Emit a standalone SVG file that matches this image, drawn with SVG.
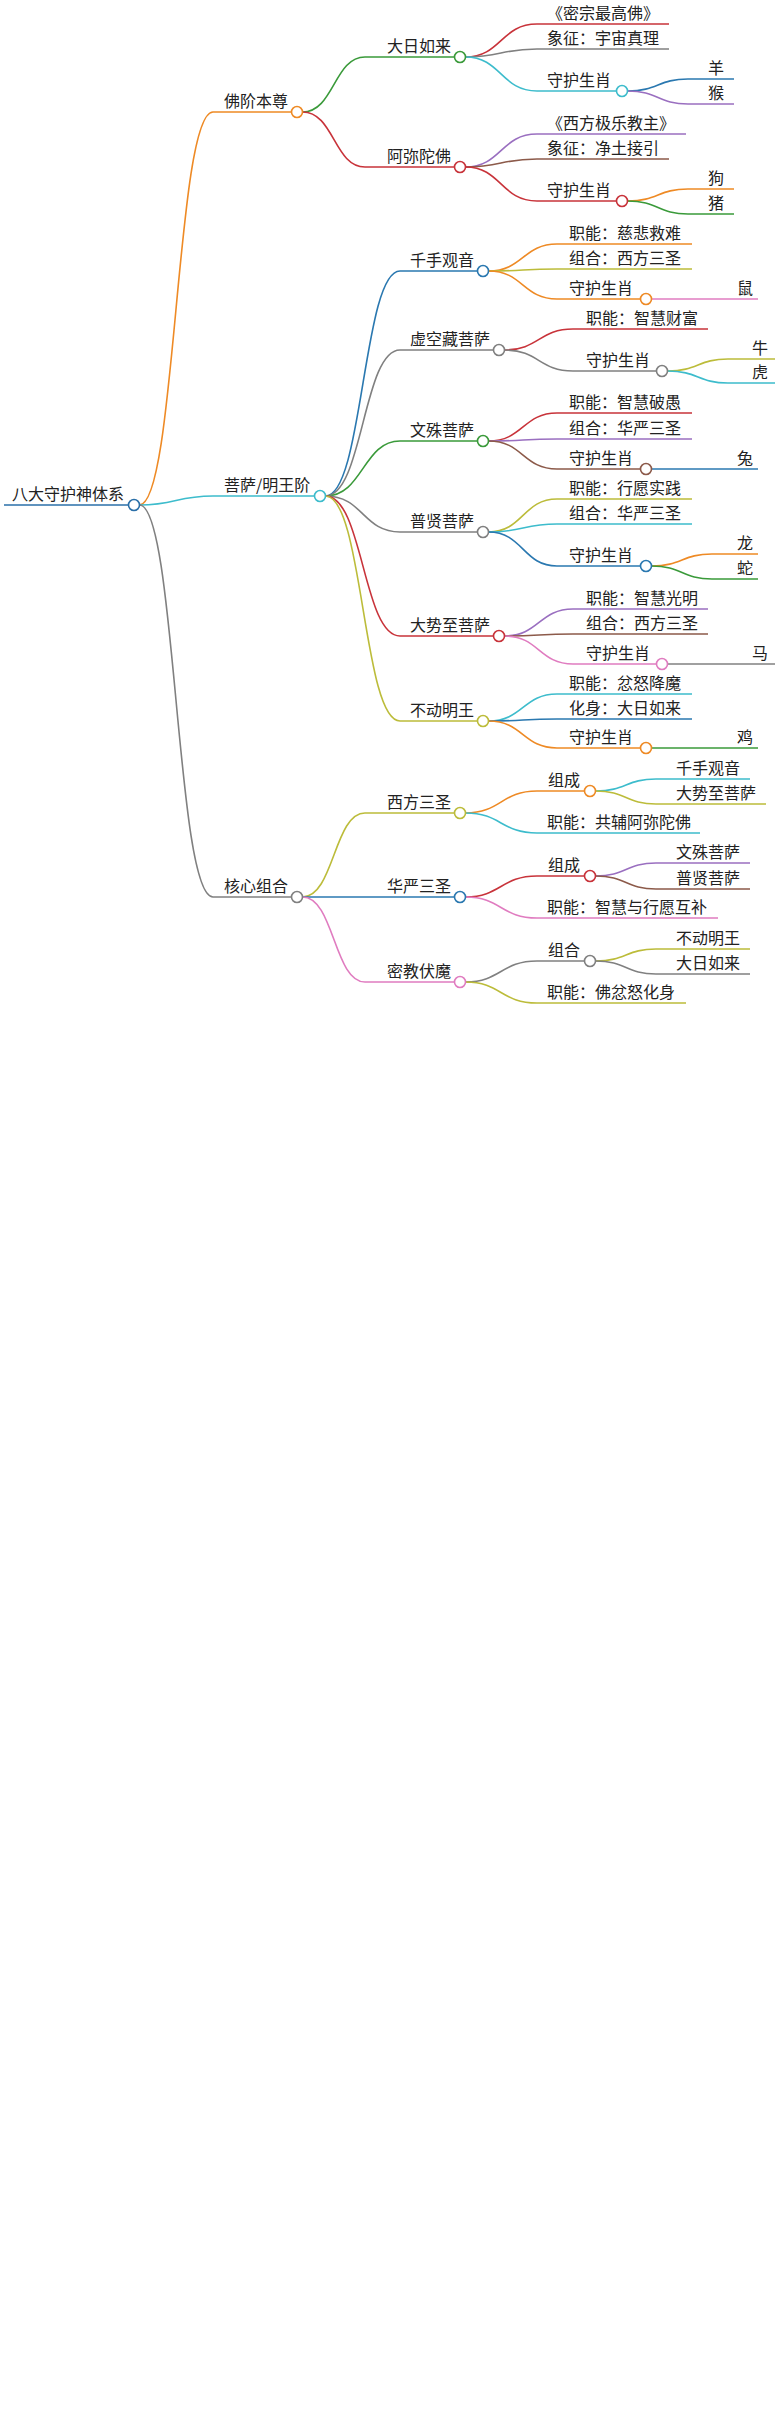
<svg xmlns="http://www.w3.org/2000/svg" width="775" height="2425" viewBox="0 0 775 2425">
<style>
text{font-family:"Noto Sans CJK SC","Liberation Sans",sans-serif;font-size:16px;fill:#222}
path{fill:none;stroke-width:1.6}
circle{fill:#fff;stroke-width:1.6}
.or{stroke:#ee8a25}.gr{stroke:#3a9a3a}.rd{stroke:#c8333a}.gy{stroke:#808080}.cy{stroke:#3dbccc}.bl{stroke:#2a78b0}.pu{stroke:#9a6fc0}.br{stroke:#8c5a4a}.ol{stroke:#bcbc3a}.pk{stroke:#e07cc0}
</style>
<rect width="775" height="2425" fill="#fff"/>
<g id="connectors">
<path d="M4 505H128.5" stroke="#2a6fa8" stroke-width="3"/>
<path class="or" d="M139.5 505C176 505 176 112 213 112H291.5"/>
<path class="cy" d="M139.5 505C176 505 176 496 213 496H314.5"/>
<path class="gy" d="M139.5 505C176 505 176 897 213 897H291.5"/>
<path class="gr" d="M302.5 112C334 112 334 57 365 57H454.5"/>
<path class="rd" d="M302.5 112C334 112 334 167 365 167H454.5"/>
<path class="rd" d="M465.5 57C501 57 501 24 537 24H669"/>
<path class="gy" d="M465.5 57C501 57 501 49 537 49H669"/>
<path class="cy" d="M465.5 57C501 57 501 91 537 91H616.5"/>
<path class="bl" d="M627.5 91C658 91 658 79 688 79H734"/>
<path class="pu" d="M627.5 91C658 91 658 104 688 104H734"/>
<path class="pu" d="M465.5 167C501 167 501 134 537 134H686"/>
<path class="br" d="M465.5 167C501 167 501 159 537 159H669"/>
<path class="rd" d="M465.5 167C501 167 501 201 537 201H616.5"/>
<path class="or" d="M627.5 201C658 201 658 189 688 189H734"/>
<path class="gr" d="M627.5 201C658 201 658 214 688 214H734"/>
<path class="bl" d="M325.5 496C363 496 363 271 400 271H477.5"/>
<path class="gy" d="M325.5 496C363 496 363 350 400 350H493.5"/>
<path class="gr" d="M325.5 496C363 496 363 441 400 441H477.5"/>
<path class="gy" d="M325.5 496C363 496 363 532 400 532H477.5"/>
<path class="rd" d="M325.5 496C363 496 363 636 400 636H493.5"/>
<path class="ol" d="M325.5 496C363 496 363 721 400 721H477.5"/>
<path class="or" d="M488.5 271C523 271 523 244 557 244H692"/>
<path class="ol" d="M488.5 271C523 271 523 269 557 269H692"/>
<path class="or" d="M488.5 271C523 271 523 299 557 299H640.5"/>
<path class="pk" d="M651.5 299H758"/>
<path class="rd" d="M504.5 350C539 350 539 329 573 329H708"/>
<path class="gy" d="M504.5 350C539 350 539 371 573 371H656.5"/>
<path class="ol" d="M667.5 371C698 371 698 359 728 359H775"/>
<path class="cy" d="M667.5 371C698 371 698 383 728 383H775"/>
<path class="rd" d="M488.5 441C523 441 523 413 557 413H692"/>
<path class="pu" d="M488.5 441C523 441 523 439 557 439H692"/>
<path class="br" d="M488.5 441C523 441 523 469 557 469H640.5"/>
<path class="bl" d="M651.5 469H758"/>
<path class="ol" d="M488.5 532C523 532 523 499 557 499H692"/>
<path class="cy" d="M488.5 532C523 532 523 524 557 524H692"/>
<path class="bl" d="M488.5 532C523 532 523 566 557 566H640.5"/>
<path class="or" d="M651.5 566C682 566 682 554 712 554H758"/>
<path class="gr" d="M651.5 566C682 566 682 579 712 579H758"/>
<path class="pu" d="M504.5 636C539 636 539 609 573 609H708"/>
<path class="br" d="M504.5 636C539 636 539 634 573 634H708"/>
<path class="pk" d="M504.5 636C539 636 539 664 573 664H656.5"/>
<path class="gy" d="M667.5 664H775"/>
<path class="cy" d="M488.5 721C523 721 523 694 557 694H692"/>
<path class="bl" d="M488.5 721C523 721 523 719 557 719H692"/>
<path class="or" d="M488.5 721C523 721 523 748 557 748H640.5"/>
<path class="gr" d="M651.5 748H758"/>
<path class="ol" d="M302.5 897C334 897 334 813 365 813H454.5"/>
<path class="bl" d="M302.5 897H454.5"/>
<path class="pk" d="M302.5 897C334 897 334 982 365 982H454.5"/>
<path class="or" d="M465.5 813C501 813 501 791 537 791H584.5"/>
<path class="cy" d="M465.5 813C501 813 501 833 537 833H700"/>
<path class="cy" d="M595.5 791C626 791 626 779 656 779H750"/>
<path class="ol" d="M595.5 791C626 791 626 804 656 804H766"/>
<path class="rd" d="M465.5 897C501 897 501 876 537 876H584.5"/>
<path class="pk" d="M465.5 897C501 897 501 918 537 918H718"/>
<path class="pu" d="M595.5 876C626 876 626 863 656 863H750"/>
<path class="br" d="M595.5 876C626 876 626 889 656 889H750"/>
<path class="gy" d="M465.5 982C501 982 501 961 537 961H584.5"/>
<path class="ol" d="M465.5 982C501 982 501 1003 537 1003H686"/>
<path class="ol" d="M595.5 961C626 961 626 949 656 949H750"/>
<path class="gy" d="M595.5 961C626 961 626 974 656 974H750"/>
</g>
<g id="root"><text x="12" y="500">八大守护神体系</text><circle cx="134" cy="505" r="5.5" stroke="#2a6fa8"/></g>
<g id="n1"><text x="224" y="107">佛阶本尊</text><circle class="or" cx="297" cy="112" r="5.5"/></g>
<g id="n2"><text x="387" y="52">大日如来</text><circle class="gr" cx="460" cy="57" r="5.5"/></g>
<g id="n3"><text x="547" y="19">《密宗最高佛》</text></g>
<g id="n4"><text x="547" y="44">象征：宇宙真理</text></g>
<g id="n5"><text x="547" y="86">守护生肖</text><circle class="cy" cx="622" cy="91" r="5.5"/></g>
<g id="n6"><text x="708" y="74">羊</text></g>
<g id="n7"><text x="708" y="99">猴</text></g>
<g id="n8"><text x="387" y="162">阿弥陀佛</text><circle class="rd" cx="460" cy="167" r="5.5"/></g>
<g id="n9"><text x="547" y="129">《西方极乐教主》</text></g>
<g id="n10"><text x="547" y="154">象征：净土接引</text></g>
<g id="n11"><text x="547" y="196">守护生肖</text><circle class="rd" cx="622" cy="201" r="5.5"/></g>
<g id="n12"><text x="708" y="184">狗</text></g>
<g id="n13"><text x="708" y="209">猪</text></g>
<g id="n14"><text x="224" y="491">菩萨/明王阶</text><circle class="cy" cx="320" cy="496" r="5.5"/></g>
<g id="n15"><text x="410" y="266">千手观音</text><circle class="bl" cx="483" cy="271" r="5.5"/></g>
<g id="n16"><text x="569" y="239">职能：慈悲救难</text></g>
<g id="n17"><text x="569" y="264">组合：西方三圣</text></g>
<g id="n18"><text x="569" y="294">守护生肖</text><circle class="or" cx="646" cy="299" r="5.5"/></g>
<g id="n19"><text x="737" y="294">鼠</text></g>
<g id="n20"><text x="410" y="345">虚空藏菩萨</text><circle class="gy" cx="499" cy="350" r="5.5"/></g>
<g id="n21"><text x="586" y="324">职能：智慧财富</text></g>
<g id="n22"><text x="586" y="366">守护生肖</text><circle class="gy" cx="662" cy="371" r="5.5"/></g>
<g id="n23"><text x="752" y="354">牛</text></g>
<g id="n24"><text x="752" y="378">虎</text></g>
<g id="n25"><text x="410" y="436">文殊菩萨</text><circle class="gr" cx="483" cy="441" r="5.5"/></g>
<g id="n26"><text x="569" y="408">职能：智慧破愚</text></g>
<g id="n27"><text x="569" y="434">组合：华严三圣</text></g>
<g id="n28"><text x="569" y="464">守护生肖</text><circle class="br" cx="646" cy="469" r="5.5"/></g>
<g id="n29"><text x="737" y="464">兔</text></g>
<g id="n30"><text x="410" y="527">普贤菩萨</text><circle class="gy" cx="483" cy="532" r="5.5"/></g>
<g id="n31"><text x="569" y="494">职能：行愿实践</text></g>
<g id="n32"><text x="569" y="519">组合：华严三圣</text></g>
<g id="n33"><text x="569" y="561">守护生肖</text><circle class="bl" cx="646" cy="566" r="5.5"/></g>
<g id="n34"><text x="737" y="549">龙</text></g>
<g id="n35"><text x="737" y="574">蛇</text></g>
<g id="n36"><text x="410" y="631">大势至菩萨</text><circle class="rd" cx="499" cy="636" r="5.5"/></g>
<g id="n37"><text x="586" y="604">职能：智慧光明</text></g>
<g id="n38"><text x="586" y="629">组合：西方三圣</text></g>
<g id="n39"><text x="586" y="659">守护生肖</text><circle class="pk" cx="662" cy="664" r="5.5"/></g>
<g id="n40"><text x="752" y="659">马</text></g>
<g id="n41"><text x="410" y="716">不动明王</text><circle class="ol" cx="483" cy="721" r="5.5"/></g>
<g id="n42"><text x="569" y="689">职能：忿怒降魔</text></g>
<g id="n43"><text x="569" y="714">化身：大日如来</text></g>
<g id="n44"><text x="569" y="743">守护生肖</text><circle class="or" cx="646" cy="748" r="5.5"/></g>
<g id="n45"><text x="737" y="743">鸡</text></g>
<g id="n46"><text x="224" y="892">核心组合</text><circle class="gy" cx="297" cy="897" r="5.5"/></g>
<g id="n47"><text x="387" y="808">西方三圣</text><circle class="ol" cx="460" cy="813" r="5.5"/></g>
<g id="n48"><text x="548" y="786">组成</text><circle class="or" cx="590" cy="791" r="5.5"/></g>
<g id="n49"><text x="676" y="774">千手观音</text></g>
<g id="n50"><text x="676" y="799">大势至菩萨</text></g>
<g id="n51"><text x="547" y="828">职能：共辅阿弥陀佛</text></g>
<g id="n52"><text x="387" y="892">华严三圣</text><circle class="bl" cx="460" cy="897" r="5.5"/></g>
<g id="n53"><text x="548" y="871">组成</text><circle class="rd" cx="590" cy="876" r="5.5"/></g>
<g id="n54"><text x="676" y="858">文殊菩萨</text></g>
<g id="n55"><text x="676" y="884">普贤菩萨</text></g>
<g id="n56"><text x="547" y="913">职能：智慧与行愿互补</text></g>
<g id="n57"><text x="387" y="977">密教伏魔</text><circle class="pk" cx="460" cy="982" r="5.5"/></g>
<g id="n58"><text x="548" y="956">组合</text><circle class="gy" cx="590" cy="961" r="5.5"/></g>
<g id="n59"><text x="676" y="944">不动明王</text></g>
<g id="n60"><text x="676" y="969">大日如来</text></g>
<g id="n61"><text x="547" y="998">职能：佛忿怒化身</text></g>
</svg>
